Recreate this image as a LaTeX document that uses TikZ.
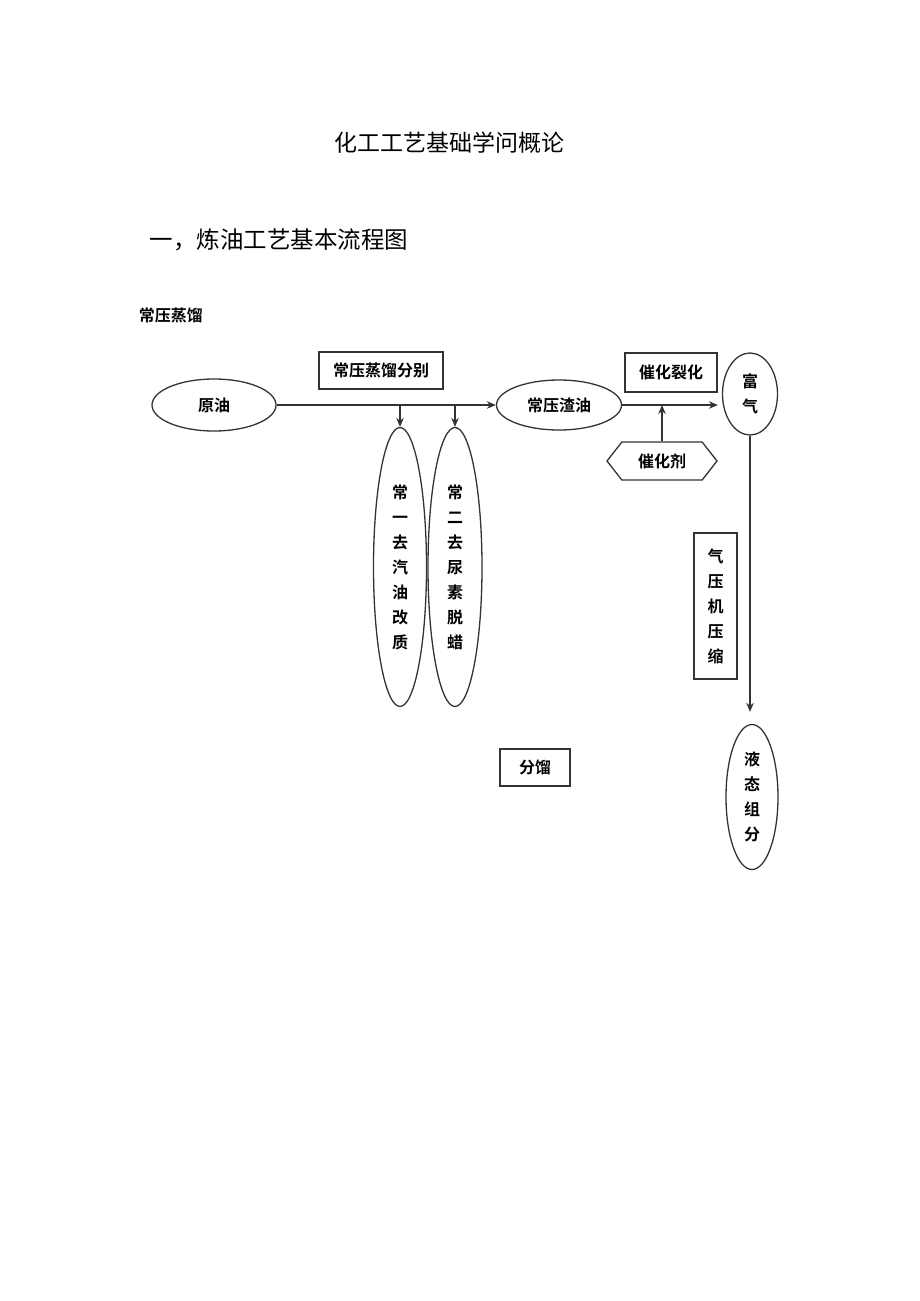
\documentclass[tikz,border=0pt]{standalone}
\usepackage{fontspec}
\setmainfont{Noto Sans CJK SC}[BoldFont={Noto Sans CJK SC Bold}]
\usepackage{tikz}
\usetikzlibrary{positioning, calc, arrows.meta, shapes.geometric, shapes.symbols}

\begin{document}
\begin{tikzpicture}[x=1pt, y=-1pt,
    line width=1.3pt, draw=black!80,
    arr/.style={-{Stealth[length=9pt,width=7.5pt]}},
    kuang/.style={draw, rectangle, inner sep=0pt, font=\bfseries\fontsize{16}{25}\selectfont, align=center},
    tuoyuan/.style={draw, ellipse, inner sep=0pt, font=\bfseries\fontsize{16}{25}\selectfont, align=center},
    liujiao/.style={draw, signal, signal to=east and west, signal pointer angle=104, inner sep=0pt, font=\bfseries\fontsize{16}{25}\selectfont}]
                \useasboundingbox (0,0) rectangle (920,1301);

                % 标题
                \node (biaoti) at (449,143) {\fontsize{23}{27}\selectfont 化工工艺基础学问概论};
                \node[anchor=west] (xiaobiaoti) at (146,240) {\fontsize{23.5}{27}\selectfont 一，炼油工艺基本流程图};
                \node[anchor=west] (changya) at (135,315) {\bfseries\fontsize{16}{18}\selectfont 常压蒸馏};

                % 方框
                \node[kuang, minimum width=124, minimum height=37] (fenbie) at (381,370.5) {常压蒸馏分别};
                \node[kuang, minimum width=92, minimum height=39] (liehua) at (671,372.5) {催化裂化};
                \node[kuang, minimum width=43, minimum height=146] (yasuo) at (715.5,606) {气\\压\\机\\压\\缩};
                \node[kuang, minimum width=70, minimum height=37] (fenliu) at (535,767.5) {分馏};

                % 椭圆
                \node[tuoyuan, minimum width=124, minimum height=52] (yuanyou) at (214,405) {原油};
                \node[tuoyuan, minimum width=53, minimum height=279] (changyi) at (400,567) {常\\一\\去\\汽\\油\\改\\质};
                \node[tuoyuan, minimum width=54, minimum height=279] (changer) at (455,567) {常\\二\\去\\尿\\素\\脱\\蜡};
                \node[tuoyuan, minimum width=125, minimum height=50] (zhayou) at (559,405) {常压渣油};
                \node[tuoyuan, minimum width=55, minimum height=82] (fuqi) at (750,394) {富\\气};
                \node[tuoyuan, minimum width=52, minimum height=145] (yetai) at (752,797) {液\\态\\组\\分};
                \node[liujiao, minimum width=110, minimum height=38] (cuihuaji) at (662,461) {催化剂};

                % 箭头
                \draw[arr] (yuanyou) -- (zhayou);
                \draw[arr] (changyi.north |- yuanyou) -- (changyi.north);
                \draw[arr] (changer.north |- yuanyou) -- (changer.north);
                \draw[arr, shorten >=4pt] (zhayou.east) -- (zhayou.east -| fuqi.west);
                \draw[arr] (cuihuaji.north) -- (cuihuaji.north |- zhayou);
                \draw[arr, shorten >=12pt] (fuqi.south) -- (fuqi.south |- yetai.north);
            \end{tikzpicture}
\end{document}
